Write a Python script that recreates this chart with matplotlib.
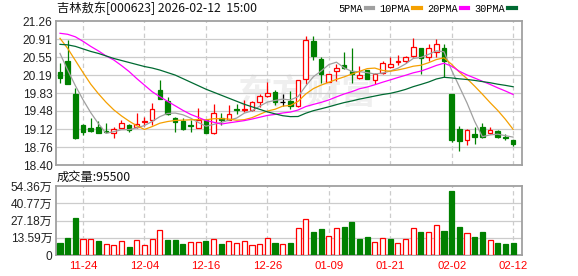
import matplotlib.pyplot as plt
from matplotlib.lines import Line2D
import numpy as np
import pandas as pd

plt.rcParams['font.family'] = ['Liberation Sans', 'Noto Sans CJK SC', 'DejaVu Sans']

title = "吉林敖东[000623] 2026-02-12  15:00"
volume_caption = "成交量:95500"

dates = ["11-19", "11-20", "11-21", "11-24", "11-25", "11-26", "11-27", "11-28",
         "12-01", "12-02", "12-03", "12-04", "12-05", "12-08", "12-09", "12-10",
         "12-11", "12-12", "12-15", "12-16", "12-17", "12-18", "12-19", "12-22",
         "12-23", "12-24", "12-25", "12-26", "12-29", "12-30", "12-31",
         "01-05", "01-06", "01-07", "01-08", "01-09", "01-12", "01-13", "01-14",
         "01-15", "01-16", "01-19", "01-20", "01-21", "01-22", "01-23", "01-26",
         "01-27", "01-28", "01-29", "01-30",
         "02-02", "02-03", "02-04", "02-05", "02-06", "02-09", "02-10", "02-11", "02-12"]
label_dates = ["11-24", "12-04", "12-16", "12-26", "01-09", "01-21", "02-02", "02-12"]

opens = [20.25, 20.47, 19.81, 19.20, 19.13, 19.15, 19.07, 19.04, 19.14, 19.19,
         19.16, 19.25, 19.29, 19.89, 19.68, 19.34, 19.28, 19.20, 19.14, 19.30,
         19.04, 19.33, 19.30, 19.51, 19.49, 19.50, 19.65, 19.77, 19.85, 19.65,
         19.68, 19.57, 20.12, 20.87, 20.50, 20.06, 20.27, 20.39, 20.27, 20.14,
         20.29, 20.10, 20.24, 20.35, 20.45, 20.47, 20.57, 20.72, 20.54, 20.64,
         20.72, 19.81, 19.12, 18.91, 19.01, 19.16, 19.04, 19.07, 18.97, 18.91]
highs = [20.43, 20.89, 19.93, 19.21, 19.34, 19.27, 19.24, 19.16, 19.30, 19.21,
         19.44, 19.36, 19.64, 20.09, 19.76, 19.35, 19.33, 19.29, 19.53, 19.32,
         19.62, 19.44, 19.60, 19.62, 19.70, 19.68, 19.81, 20.06, 19.90, 19.81,
         19.87, 20.10, 20.96, 20.96, 20.54, 20.22, 20.41, 20.65, 20.73, 20.37,
         20.29, 20.24, 20.47, 20.55, 20.58, 20.57, 20.92, 20.73, 20.81, 20.90,
         20.80, 19.81, 19.17, 19.12, 19.15, 19.24, 19.16, 19.10, 19.01, 18.91]
lows = [20.03, 20.01, 18.93, 18.99, 19.05, 19.03, 19.03, 18.95, 19.13, 19.06,
        19.13, 19.18, 19.19, 19.71, 19.40, 19.05, 19.09, 19.05, 19.13, 19.03,
        19.02, 19.19, 19.29, 19.41, 19.46, 19.48, 19.56, 19.76, 19.60, 19.58,
        19.52, 19.55, 20.01, 20.49, 20.03, 20.06, 20.08, 20.31, 20.04, 20.11,
        20.11, 20.01, 20.22, 20.34, 20.39, 20.43, 20.55, 20.22, 20.47, 20.55,
        20.16, 18.86, 18.68, 18.80, 18.82, 18.94, 19.02, 18.94, 18.91, 18.78]
closes = [20.13, 20.02, 18.94, 19.05, 19.08, 19.04, 19.05, 19.11, 19.24, 19.09,
          19.22, 19.28, 19.51, 19.72, 19.41, 19.26, 19.11, 19.18, 19.29, 19.03,
          19.44, 19.30, 19.42, 19.49, 19.52, 19.66, 19.77, 19.83, 19.65, 19.65,
          19.58, 20.10, 20.89, 20.57, 20.21, 20.22, 20.34, 20.33, 20.21, 20.19,
          20.12, 20.21, 20.42, 20.41, 20.47, 20.55, 20.75, 20.52, 20.72, 20.81,
          20.47, 18.91, 18.89, 19.10, 18.97, 18.96, 19.09, 18.96, 18.95, 18.83]
prev_close = 20.58
# volume in 万 shares
volumes = [9.7, 13.6, 29.3, 12.8, 12.8, 11.3, 8.9, 7.9, 11.0, 6.5,
           12.0, 7.9, 12.6, 19.9, 12.0, 12.0, 8.9, 10.5, 10.5, 11.3,
           12.6, 8.9, 11.0, 9.4, 11.0, 7.9, 8.9, 13.4, 9.7, 8.9,
           9.7, 21.2, 28.3, 18.3, 20.7, 14.9, 21.2, 22.3, 26.2, 12.8,
           14.4, 10.2, 13.4, 12.8, 9.4, 12.6, 21.2, 18.3, 18.1, 23.6,
           19.1, 50.5, 22.3, 17.3, 14.4, 18.3, 11.8, 9.7, 8.9, 9.55]

# moving-average values at the left edge (history before the window)
ma5_head = [20.62, 20.29, 19.98, 19.70]
ma10_head = [20.92, 20.72, 20.48, 20.24, 20.01, 19.82, 19.65, 19.50, 19.38]
ma20_head = [21.02, 21.00, 20.95, 20.86, 20.76, 20.67, 20.57, 20.49, 20.38, 20.26,
             20.12, 19.99, 19.86, 19.76, 19.67, 19.58, 19.49, 19.41, 19.35]
ma30_head = [20.80, 20.79, 20.76, 20.71, 20.66, 20.62, 20.57, 20.52, 20.48, 20.44,
             20.40, 20.36, 20.33, 20.29, 20.24, 20.19, 20.12, 20.05, 19.98, 19.91,
             19.85, 19.79, 19.73, 19.67, 19.61, 19.56, 19.51, 19.46, 19.42]

price_min, price_max = 18.404, 21.264
vol_max = 54.36

RED = '#ff0000'
GREEN = '#008000'
GRID = '#cccccc'
FRAME = '#a0a0a0'
ma_styles = [("5PMA", 5, ma5_head, '#a0a0a0'),
             ("10PMA", 10, ma10_head, '#f5a000'),
             ("20PMA", 20, ma20_head, '#ff00ff'),
             ("30PMA", 30, ma30_head, '#006a32')]


def moving_average(values, n, head):
    ma = pd.Series(values).rolling(n).mean().to_numpy()
    ma[:len(head)] = head
    return ma


def style_axes(ax):
    for s in ax.spines.values():
        s.set_color(FRAME)
        s.set_linewidth(1.3)
    ax.tick_params(length=0, labelsize=8.6, colors='#222222', pad=2.5)
    ax.set_xlim(-0.52, 60.16)
    for d in label_dates:
        ax.axvline(dates.index(d), color=GRID, lw=0.9, ls=(0, (3.5, 2.5)), zorder=1)


fig = plt.figure(figsize=(5.78, 2.76), dpi=100)
W, H = 578, 276
ax = fig.add_axes([56 / W, (H - 165) / H, 466 / W, 144 / H])
axv = fig.add_axes([56 / W, (H - 255) / H, 466 / W, 69 / H])

x = np.arange(len(dates))

# price panel
style_axes(ax)
yt = np.linspace(price_min, price_max, 9)
ax.set_ylim(price_min, price_max)
ax.set_yticks(yt)
ax.set_yticklabels(["%.2f" % v for v in yt])
for v in yt[1:-1]:
    ax.axhline(v, color=GRID, lw=0.9, zorder=1)
ax.set_xticks([])
ax.text(0.54, 0.5, "东方财富", transform=ax.transAxes, ha='center', va='center',
        fontsize=25, fontweight='bold', color='#efefef', family='Noto Sans CJK SC', zorder=0)

for i in x:
    o, h, l, c = opens[i], highs[i], lows[i], closes[i]
    if c > o:
        col, face = RED, 'white'
    elif c < o:
        col, face = GREEN, GREEN
    else:
        col, face = 'black', 'black'
    ax.vlines(i, l, h, color=col, lw=0.9, zorder=3)
    if c == o:
        ax.hlines(o, i - 0.32, i + 0.32, color=col, lw=0.9, zorder=4)
    else:
        ax.bar(i, abs(c - o), bottom=min(o, c), width=0.6, facecolor=face,
               edgecolor=col, lw=0.9, zorder=4)

handles = []
for name, n, head, color in ma_styles:
    ma = moving_average(closes, n, head)
    ax.plot(x, ma, color=color, lw=0.9, zorder=5)
    handles.append(Line2D([], [], color=color, lw=3))

fig.legend(handles, [m[0] for m in ma_styles], loc='center left',
           bbox_to_anchor=(338 / W, 1 - 8.5 / H), ncol=4, frameon=False,
           markerfirst=False, handlelength=0.75, handletextpad=0.3,
           columnspacing=0.6, borderpad=0, borderaxespad=0,
           prop={'family': 'Liberation Mono', 'size': 7.4})

fig.text(57 / W, 1 - 8.5 / H, title, ha='left', va='center', fontsize=8.8,
         family='Noto Sans CJK SC', color='#111111')
fig.text(57 / W, 1 - 177.5 / H, volume_caption, ha='left', va='center', fontsize=8.8,
         family='Noto Sans CJK SC', color='#111111')

# volume panel
style_axes(axv)
vt = np.linspace(0, vol_max, 5)
axv.set_ylim(0, vol_max)
axv.set_yticks(vt)
axv.set_yticklabels(["0"] + ["%.2f万" % v for v in vt[1:]])
for v in vt[1:-1]:
    axv.axhline(v, color=GRID, lw=0.9, zorder=1)
prev = [prev_close] + closes[:-1]
for i in x:
    up = closes[i] >= prev[i]
    axv.bar(i, volumes[i], width=0.66, facecolor='white' if up else GREEN,
            edgecolor=RED if up else GREEN, lw=0.9, zorder=3)
axv.set_xticks([dates.index(d) for d in label_dates])
axv.set_xticklabels(label_dates, color=RED, fontsize=8.2)
axv.tick_params(axis='x', pad=4)

fig.savefig("out.png", dpi=100)
